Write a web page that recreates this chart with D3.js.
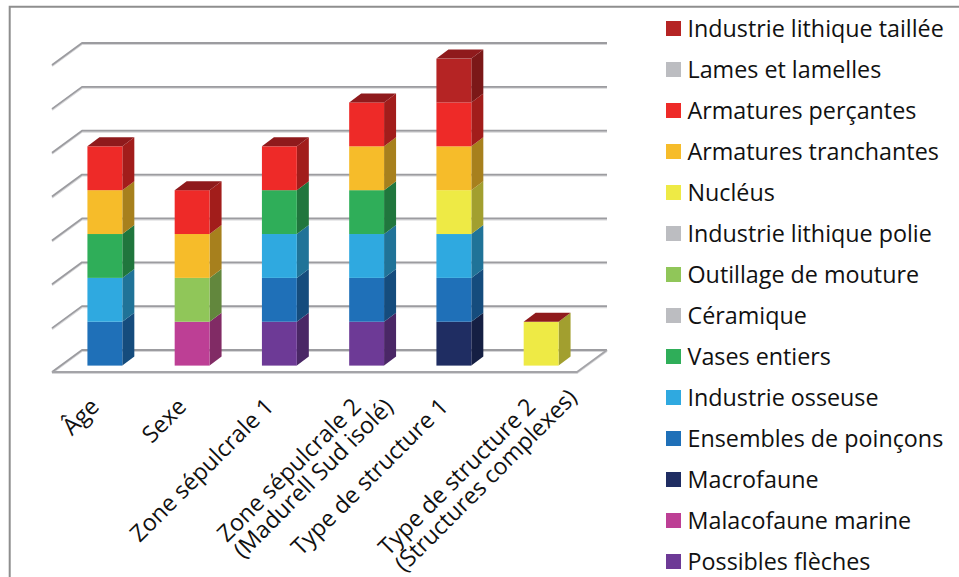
<!DOCTYPE html>
<html lang="fr">
<head>
<meta charset="utf-8">
<script src="https://cdnjs.cloudflare.com/ajax/libs/d3/7.8.5/d3.min.js"></script>
<style>
  html, body { margin: 0; padding: 0; background: #fff; }
  svg { display: block; }
  text { font-family: "Open Sans", Lato, sans-serif; fill: #111; }
</style>
</head>
<body>
<svg id="chart" width="959" height="577"></svg>
<script>
// Catégories de l'axe horizontal (les retours à la ligne séparent les libellés sur deux lignes)
const categories = [
  "Âge",
  "Sexe",
  "Zone sépulcrale 1",
  "Zone sépulcrale 2\n(Madurell Sud isolé)",
  "Type de structure 1",
  "Type de structure 2\n(Structures complexes)"
];

// Séries, de la base de la pile vers son sommet
const possiblesFleches      = [0, 0, 1, 1, 0, 0];
const malacofaune           = [0, 1, 0, 0, 0, 0];
const macrofaune            = [0, 0, 0, 0, 1, 0];
const poincons              = [1, 0, 1, 1, 1, 0];
const industrieOsseuse      = [1, 0, 1, 1, 1, 0];
const vasesEntiers          = [1, 0, 1, 1, 0, 0];
const ceramique             = [0, 0, 0, 0, 0, 0];
const outillageMouture      = [0, 1, 0, 0, 0, 0];
const lithiquePolie         = [0, 0, 0, 0, 0, 0];
const nucleus               = [0, 0, 0, 0, 1, 1];
const armaturesTranchantes  = [1, 1, 0, 1, 1, 0];
const armaturesPercantes    = [1, 1, 1, 1, 1, 0];
const lamesLamelles         = [0, 0, 0, 0, 0, 0];
const lithiqueTaillee       = [0, 0, 0, 0, 1, 0];

const seriesNames = [
  "Possibles flèches", "Malacofaune marine", "Macrofaune", "Ensembles de poinçons",
  "Industrie osseuse", "Vases entiers", "Céramique", "Outillage de mouture",
  "Industrie lithique polie", "Nucléus", "Armatures tranchantes", "Armatures perçantes",
  "Lames et lamelles", "Industrie lithique taillée"
];
const seriesValues = [
  possiblesFleches, malacofaune, macrofaune, poincons,
  industrieOsseuse, vasesEntiers, ceramique, outillageMouture,
  lithiquePolie, nucleus, armaturesTranchantes, armaturesPercantes,
  lamesLamelles, lithiqueTaillee
];
const seriesColors = [
  "#6d3a96", "#bd3f95", "#1f2d62", "#1f70b8",
  "#2fa9e0", "#2fae59", "#bcbdc1", "#90c659",
  "#bcbdc1", "#eeea45", "#f6bc2a", "#ee2a28",
  "#bcbdc1", "#b52424"
];
const valueTicks = [0, 1, 2, 3, 4, 5, 6, 7];

const svg = d3.select("#chart");

// Projection oblique du plancher : décalages vers le fond du graphique
const floorLeft = 52, floorRight = 577;
const floorDx = 30, floorDy = 22;     // profondeur du plancher
const barDx = 12, barDy = 9;          // profondeur d'une barre
const barShiftX = 9.25, barShiftY = 15.6; // position de la face avant dans le plancher

const x = d3.scaleBand().domain(categories).range([floorLeft, 575.5]).paddingInner(0.6).paddingOuter(0.3);
const y = d3.scaleLinear().domain([0, 7]).range([350, 43]);

// Cadre
svg.append("path")
  .attr("d", "M9.7,577V6.8H959")
  .attr("fill", "none").attr("stroke", "#8e8e8e").attr("stroke-width", 2);

// Grille : un trait sur la paroi gauche puis un trait sur la paroi du fond
const gridLine = d3.line();
const gridGroup = svg.append("g").attr("fill", "none").attr("stroke-linejoin", "round");
valueTicks.forEach(v => {
  const pts = [[floorLeft, y(v) + floorDy], [floorLeft + floorDx, y(v)], [floorRight + floorDx, y(v)]];
  gridGroup.append("path").attr("d", gridLine(pts.map(p => [p[0], p[1] + 1])))
    .attr("stroke", "#d6d6d8").attr("stroke-width", 2);
  gridGroup.append("path").attr("d", gridLine(pts))
    .attr("stroke", "#9c9ca0").attr("stroke-width", 1.8);
});
// Bord avant et bord droit du plancher
const floorPts = [[floorLeft, y(0) + floorDy], [floorRight, y(0) + floorDy], [floorRight + floorDx, y(0)]];
gridGroup.append("path").attr("d", gridLine(floorPts.map(p => [p[0], p[1] + 1])))
  .attr("stroke", "#d6d6d8").attr("stroke-width", 2);
gridGroup.append("path").attr("d", gridLine(floorPts))
  .attr("stroke", "#a4a4a8").attr("stroke-width", 1.8);

// Piles de valeurs
const rows = categories.map((c, i) => {
  const row = { category: c };
  seriesNames.forEach((s, k) => { row[s] = seriesValues[k][i]; });
  return row;
});
const stacked = d3.stack().keys(seriesNames)(rows);

const shade = (col, f) => {
  const c = d3.rgb(col);
  return d3.rgb(c.r * f, c.g * f, c.b * f).formatHex();
};
const topColor = "#8f1a1c";

const barLayer = svg.append("g");
stacked.forEach((layer, k) => {
  const color = seriesColors[k];
  const g = barLayer.append("g");
  const segs = layer.map(d => ({
    left: x(d.data.category) + barShiftX,
    top: y(d[1]) + barShiftY,
    bottom: y(d[0]) + barShiftY,
    height: d[1] - d[0]
  })).filter(d => d.height > 0);

  // Face latérale
  g.selectAll("path.side").data(segs).join("path").attr("class", "side")
    .attr("fill", shade(color, 0.68))
    .attr("d", d => {
      const r = d.left + x.bandwidth();
      return `M${r},${d.bottom}L${r + barDx},${d.bottom - barDy}L${r + barDx},${d.top - barDy}L${r},${d.top}Z`;
    });
  // Face avant
  g.selectAll("rect").data(segs).join("rect")
    .attr("x", d => d.left).attr("y", d => d.top)
    .attr("width", x.bandwidth()).attr("height", d => d.bottom - d.top)
    .attr("fill", color);
});

// Face supérieure de chaque pile
const totals = rows.map(r => d3.sum(seriesNames, s => r[s]));
barLayer.selectAll("path.top").data(categories).join("path").attr("class", "top")
  .attr("fill", topColor)
  .attr("d", (c, i) => {
    const l = x(c) + barShiftX, r = l + x.bandwidth(), t = y(totals[i]) + barShiftY;
    return `M${l},${t}L${l + barDx},${t - barDy}L${r + barDx},${t - barDy}L${r},${t}Z`;
  });

// Axe des catégories : libellés inclinés à 45°, lignes alignées sur leur début
const axis = svg.append("g")
  .attr("transform", `translate(0,${y(0) + floorDy + 8})`)
  .call(d3.axisBottom(x).tickSize(0).tickPadding(0));
axis.select(".domain").remove();
const lineGap = 23;
const maxLineLength = 246; // au-delà, la ligne sortirait du bas du cadre
axis.selectAll(".tick text").each(function (c) {
  const lines = c.split("\n");
  const t = d3.select(this).text(null)
    .attr("y", 0).attr("dy", null)
    .attr("text-anchor", "start")
    .attr("font-size", 23.3)
    .attr("font-family", "'Open Sans', Lato, sans-serif")
    .attr("transform", `translate(5,28) rotate(-45)`);
  const spans = lines.map((ln, i) => t.append("tspan").attr("y", i * lineGap).text(ln));
  const firstLength = spans[0].node().getComputedTextLength();
  spans.forEach(s => {
    s.attr("x", -firstLength);
    if (s.node().getComputedTextLength() > maxLineLength) {
      s.attr("textLength", maxLineLength).attr("lengthAdjust", "spacingAndGlyphs");
    }
  });
});

// Légende, dans l'ordre inverse de l'empilement
const legendNames = seriesNames.slice().reverse();
const legendColors = seriesColors.slice().reverse();
const legendY = d3.scalePoint().domain(legendNames).range([28.5, 561.5]);
const legend = svg.append("g").selectAll("g").data(legendNames).join("g")
  .attr("transform", d => `translate(666,${legendY(d)})`);
legend.append("rect").attr("x", 0).attr("y", -7.5).attr("width", 15).attr("height", 15)
  .attr("fill", (d, i) => legendColors[i]);
legend.append("text").attr("x", 21.5).attr("y", 8)
  .attr("font-size", 23.3).text(d => d);
</script>
</body>
</html>
